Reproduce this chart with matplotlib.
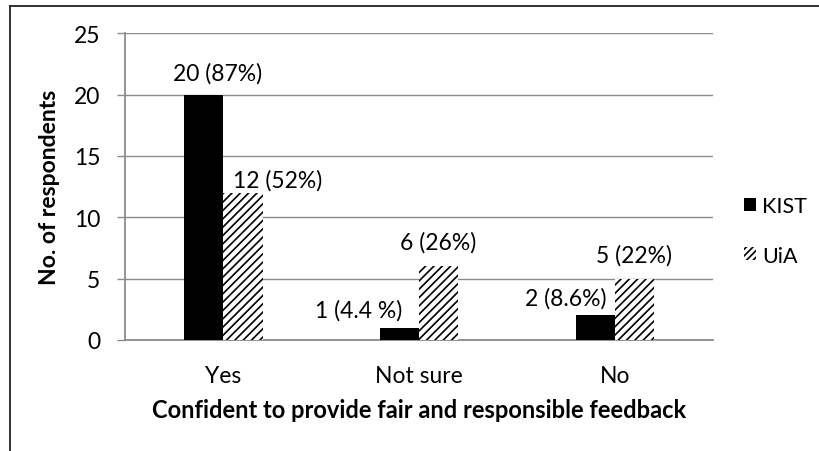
import matplotlib
matplotlib.use("Agg")
import matplotlib.pyplot as plt
from matplotlib.patches import Patch
from matplotlib.lines import Line2D
import numpy as np

categories = ["Yes", "Not sure", "No"]
kist = [20, 1, 2]
uia = [12, 6, 5]
kist_labels = ["20 (87%)", "1 (4.4 %)", "2 (8.6%)"]
uia_labels = ["12 (52%)", "6 (26%)", "5 (22%)"]
series_names = ["KIST", "UiA"]
y_ticks = [0, 5, 10, 15, 20, 25]
xlabel = "Confident to provide fair and responsible feedback"
ylabel = "No. of respondents"

# label offsets (points) relative to bar top centre
kist_off = [(10, 15.5), (-29.5, 12.7), (-21.6, 13)]
uia_off = [(25, 9.4), (-0.7, 17.7), (-0.7, 17.3)]

plt.rcParams['font.family'] = ['Lato', 'DejaVu Sans']
plt.rcParams['hatch.linewidth'] = 1.2

FS = 16.5
W, H = 820, 452
fig = plt.figure(figsize=(W / 100, H / 100), dpi=100)
ax = fig.add_axes([125.5 / W, 1 - 341 / H, (713 - 125.5) / W, (341 - 34.3) / H])

x = np.arange(len(categories))
bw = 0.2
b1 = ax.bar(x - bw / 2, kist, bw, color="black", edgecolor="black", linewidth=0, zorder=3)
b2 = ax.bar(x + bw / 2, uia, bw, color="white", edgecolor="black", hatch="////", linewidth=0, zorder=3)

ax.set_xlim(-0.5, 2.5)
ax.set_ylim(0, 25)
ax.set_yticks(y_ticks)
ax.set_yticklabels([str(v) for v in y_ticks])
ax.set_xticks(x)
ax.set_xticklabels(categories)

gcol = "#8c8c8c"
ax.yaxis.grid(True, color=gcol, linewidth=1.0, zorder=0)
ax.set_axisbelow(True)
for s in ["top", "right"]:
    ax.spines[s].set_visible(False)
for s in ["left", "bottom"]:
    ax.spines[s].set_color(gcol)
    ax.spines[s].set_linewidth(1.3)
ax.tick_params(axis="y", length=6, color=gcol, width=1.0, pad=12, labelsize=FS)
ax.tick_params(axis="x", length=0, pad=18, labelsize=FS)

for bars, labels, offs in ((b1, kist_labels, kist_off), (b2, uia_labels, uia_off)):
    for bar, lab, (dx, dy) in zip(bars, labels, offs):
        ax.annotate(lab, (bar.get_x() + bar.get_width() / 2, bar.get_height()),
                    xytext=(dx, dy), textcoords="offset points",
                    ha="center", va="center", fontsize=FS, zorder=4)

fig.text(419 / W, 1 - 411 / H, xlabel, ha="center", va="center", fontsize=17, fontweight="bold")
fig.text(50 / W, 1 - 187 / H, ylabel, ha="center", va="center", rotation=90, fontsize=16.5, fontweight="bold")

handles = [Patch(facecolor="black", edgecolor="black", linewidth=0),
           Patch(facecolor="white", edgecolor="black", hatch="/////", linewidth=0)]
fig.legend(handles, series_names, loc="center left", bbox_to_anchor=(744 / W, 1 - 232 / H),
           frameon=False, fontsize=15.5, handlelength=0.55, handleheight=0.55,
           handletextpad=0.3, labelspacing=1.35, borderpad=0, borderaxespad=0)

# outer frame (top and left edges visible)
fig.add_artist(Line2D([10 / W, 1], [1 - 7 / H, 1 - 7 / H], transform=fig.transFigure, color="#222222", linewidth=1.3))
fig.add_artist(Line2D([10 / W, 10 / W], [0, 1 - 7 / H], transform=fig.transFigure, color="#222222", linewidth=1.3))

fig.savefig("out.png", dpi=100, facecolor="white")
